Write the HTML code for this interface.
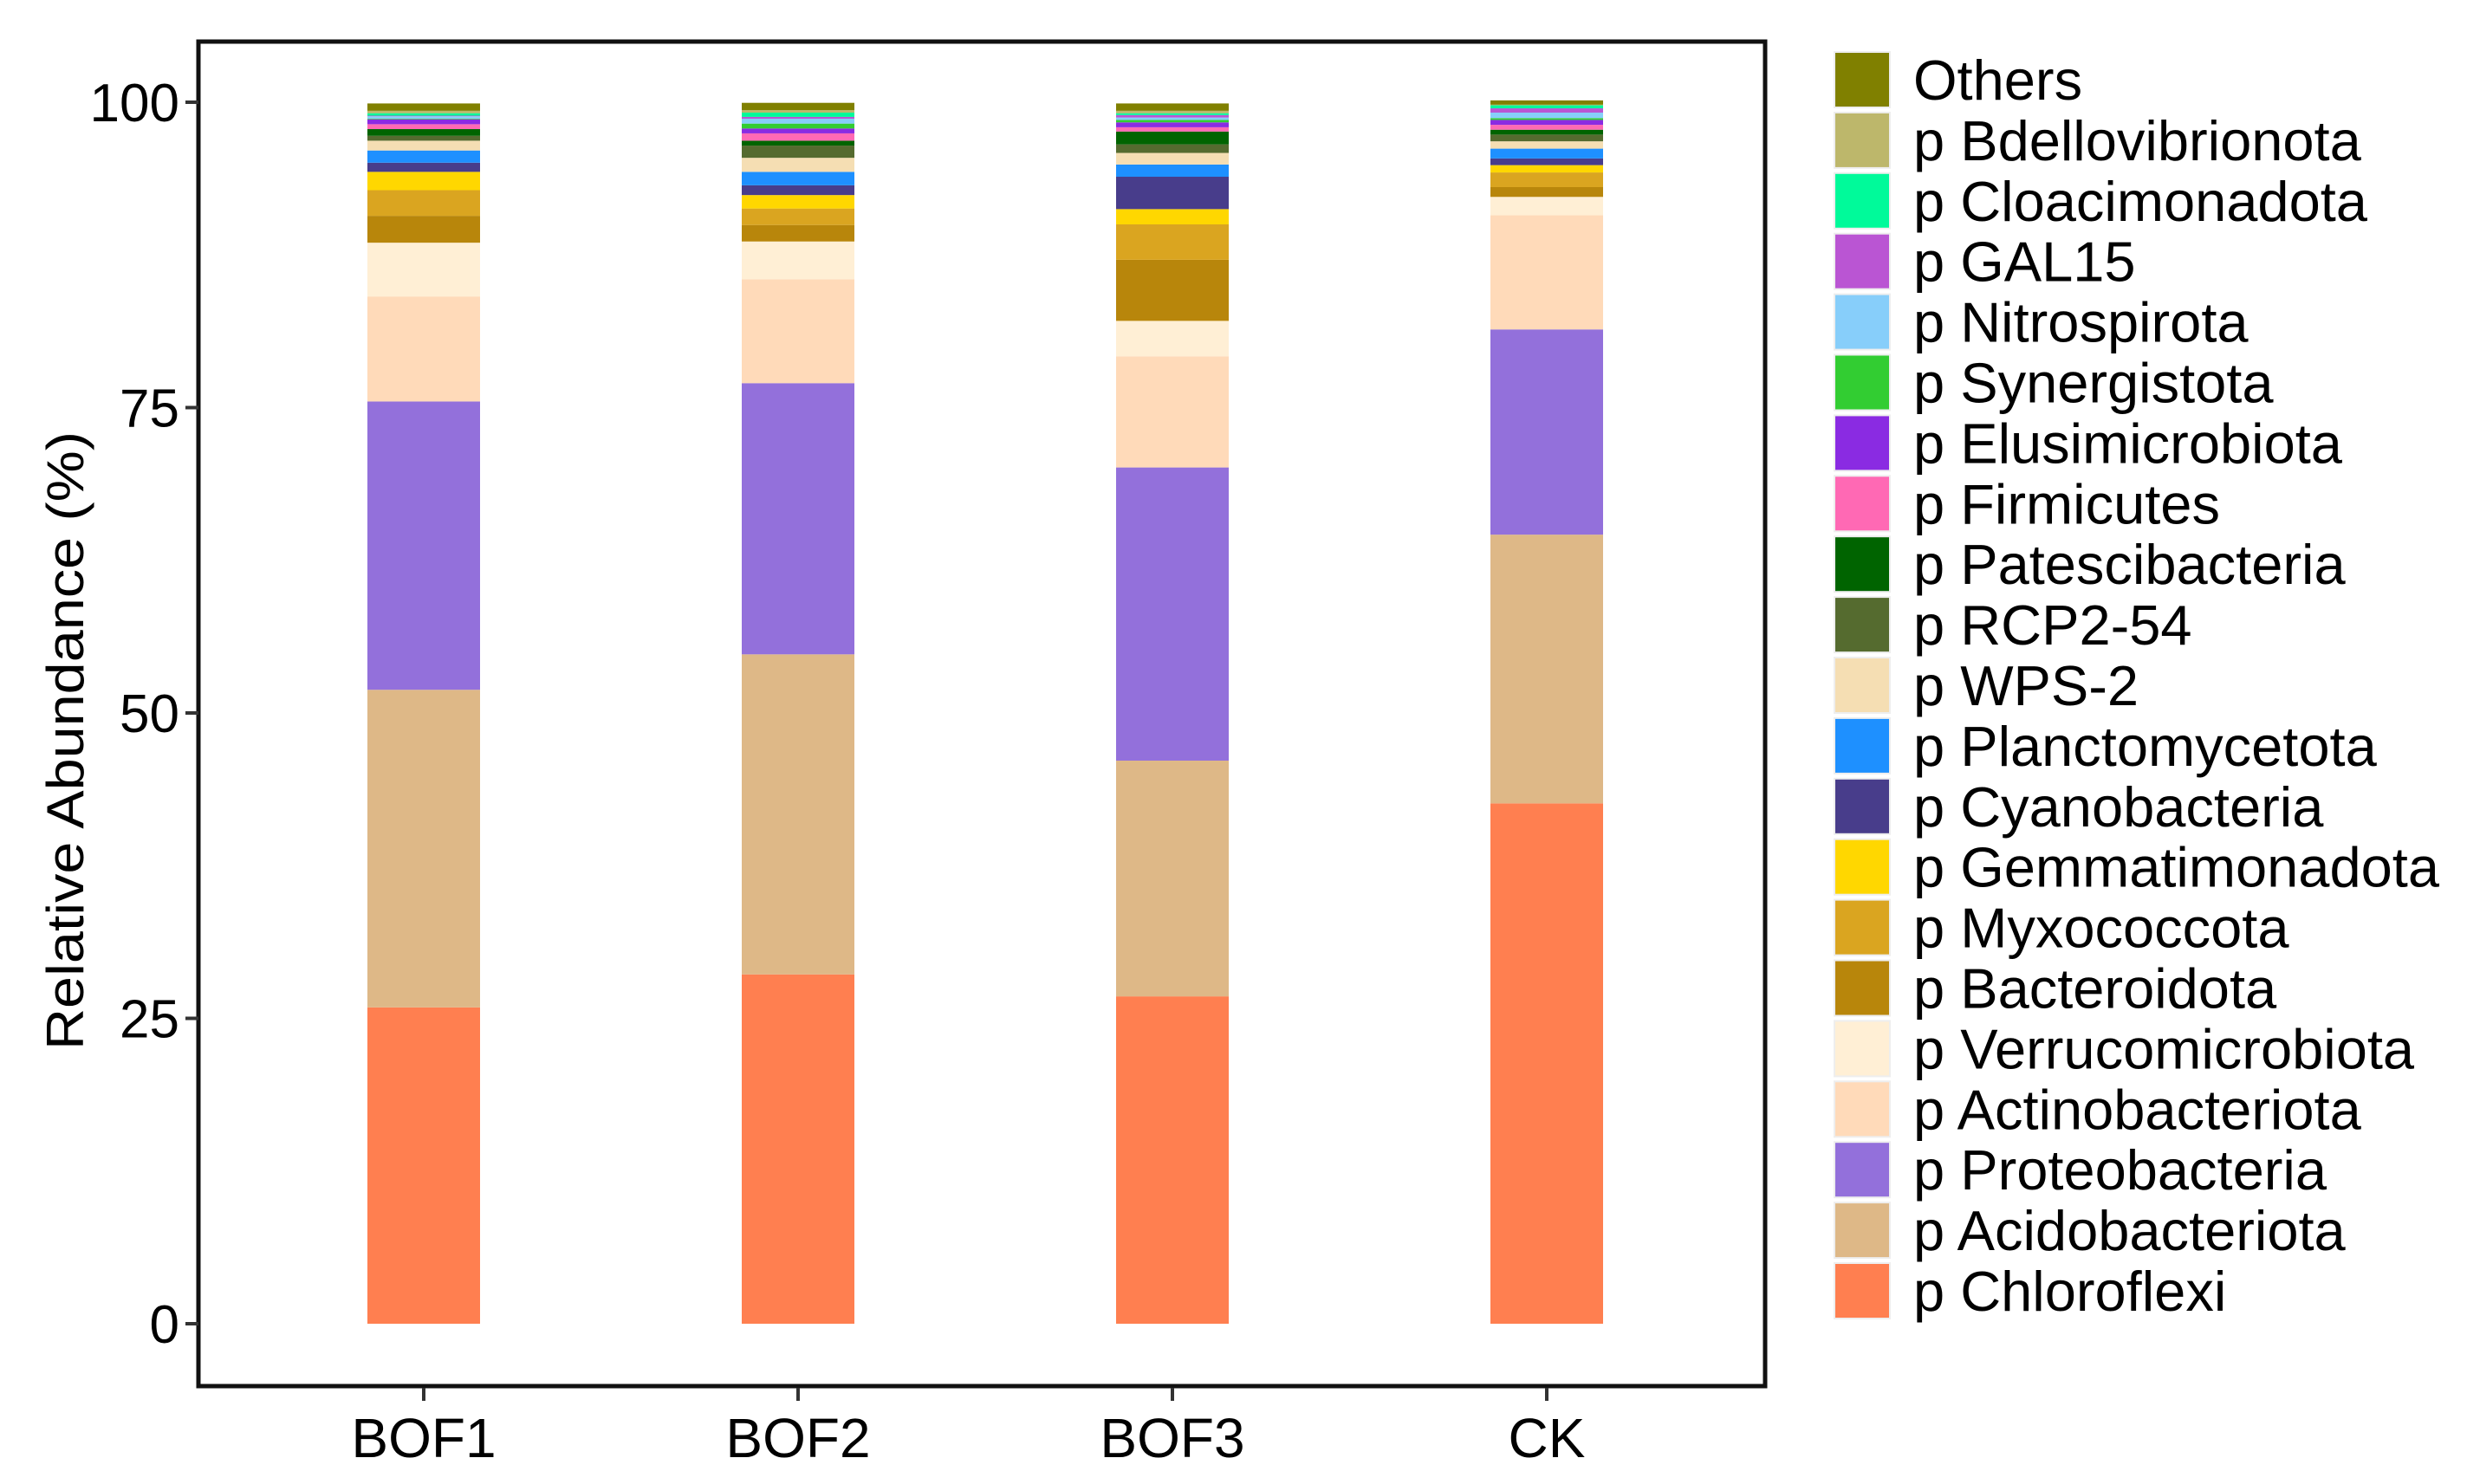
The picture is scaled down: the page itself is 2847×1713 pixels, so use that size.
<!DOCTYPE html>
<html><head><meta charset="utf-8"><style>
html,body{margin:0;padding:0;background:#fff;}
svg{display:block;font-family:"Liberation Sans",Arial,sans-serif;}
</style></head><body>
<svg id="chart" width="2847" height="1713" viewBox="0 0 2847 1713" xmlns="http://www.w3.org/2000/svg">
<g id="bars"></g>
<rect x="229" y="48" width="1808" height="1552" fill="none" stroke="#111" stroke-width="5"/>
<g id="yaxis"></g>
<g id="xaxis"></g>
<text transform="translate(96,855) rotate(-90)" text-anchor="middle" font-size="60" textLength="714" lengthAdjust="spacingAndGlyphs">Relative Abundance (%)</text>
<g id="legend"></g>
</svg>
<script>
const categories = ["BOF1","BOF2","BOF3","CK"];
const taxa = ["p Chloroflexi","p Acidobacteriota","p Proteobacteria","p Actinobacteriota","p Verrucomicrobiota","p Bacteroidota","p Myxococcota","p Gemmatimonadota","p Cyanobacteria","p Planctomycetota","p WPS-2","p RCP2-54","p Patescibacteria","p Firmicutes","p Elusimicrobiota","p Synergistota","p Nitrospirota","p GAL15","p Cloacimonadota","p Bdellovibrionota","Others"];
const colors = ["#FF7F50","#DEB887","#9370DB","#FFDAB9","#FFEFD5","#B8860B","#DAA520","#FFD700","#483D8B","#1E90FF","#F5DEB3","#556B2F","#006400","#FF69B4","#8A2BE2","#32CD32","#87CEFA","#BA55D3","#00FA9A","#BDB76B","#808000"];
const valsBOF1 = [25.9,26.0,23.6,8.6,4.4,2.2,2.1,1.5,0.75,1.0,0.8,0.4,0.55,0.4,0.4,0.05,0.2,0.05,0.2,0.2,0.6];
const valsBOF2 = [28.6,26.2,22.2,8.5,3.1,1.35,1.35,1.1,0.8,1.1,1.15,1.0,0.4,0.6,0.4,0.4,0.4,0.15,0.35,0.2,0.6];
const valsBOF3 = [26.8,19.3,24.0,9.1,2.9,5.0,2.9,1.25,2.65,1.0,0.95,0.7,1.05,0.35,0.4,0.2,0.2,0.2,0.15,0.2,0.6];
const valsCK = [42.6,22.0,16.8,9.35,1.5,0.8,1.2,0.6,0.55,0.8,0.6,0.55,0.4,0.4,0.4,0.15,0.45,0.35,0.25,0.05,0.35];
const series = [valsBOF1,valsBOF2,valsBOF3,valsCK];
const yTicks = [0,25,50,75,100];

const NS="http://www.w3.org/2000/svg";
const y0=1528, y100=118;
function yScale(v){return y0-(y0-y100)*v/100;}
function xCenter(i){return 489+i*432;}
const barW=130;
function mk(tag,attrs,parent){const e=document.createElementNS(NS,tag);for(const k in attrs)e.setAttribute(k,attrs[k]);parent.appendChild(e);return e;}

const gb=document.getElementById('bars');
series.forEach((vals,ci)=>{
  let cum=0;
  vals.forEach((v,ti)=>{
    const yt=yScale(cum+v), yb=yScale(cum);
    const r=mk('rect',{x:xCenter(ci)-barW/2,y:yt,width:barW,height:Math.max(0,yb-yt),fill:colors[ti]},gb);
    
    
    cum+=v;
  });
});

const gy=document.getElementById('yaxis');
yTicks.forEach(t=>{
  const y=yScale(t);
  const l=mk('line',{x1:214,x2:229,y1:y,y2:y,stroke:'#333','stroke-width':4},gy);
  
  
  const tx=mk('text',{x:207,y:y+22,'text-anchor':'end','font-size':62},gy);
  
  
  tx.textContent=t;
});

const gx=document.getElementById('xaxis');
categories.forEach((c,i)=>{
  const x=xCenter(i);
  const l=mk('line',{x1:x,x2:x,y1:1602,y2:1617,stroke:'#333','stroke-width':4},gx);
  
  
  const tx=mk('text',{x:x,y:1682,'text-anchor':'middle','font-size':64},gx);
  
  
  tx.textContent=c;
});

const gl=document.getElementById('legend');
const order=taxa.map((t,i)=>i).reverse();
order.forEach((ti,row)=>{
  const cy=92+row*69.9;
  const r=mk('rect',{x:2117,y:cy-32,width:64,height:64,fill:colors[ti],stroke:'#eee','stroke-width':2},gl);
  
  
  const tx=mk('text',{x:2208,y:cy+23,'font-size':65},gl);
  
  
  tx.textContent=taxa[ti];
});
</script>
</body></html>
